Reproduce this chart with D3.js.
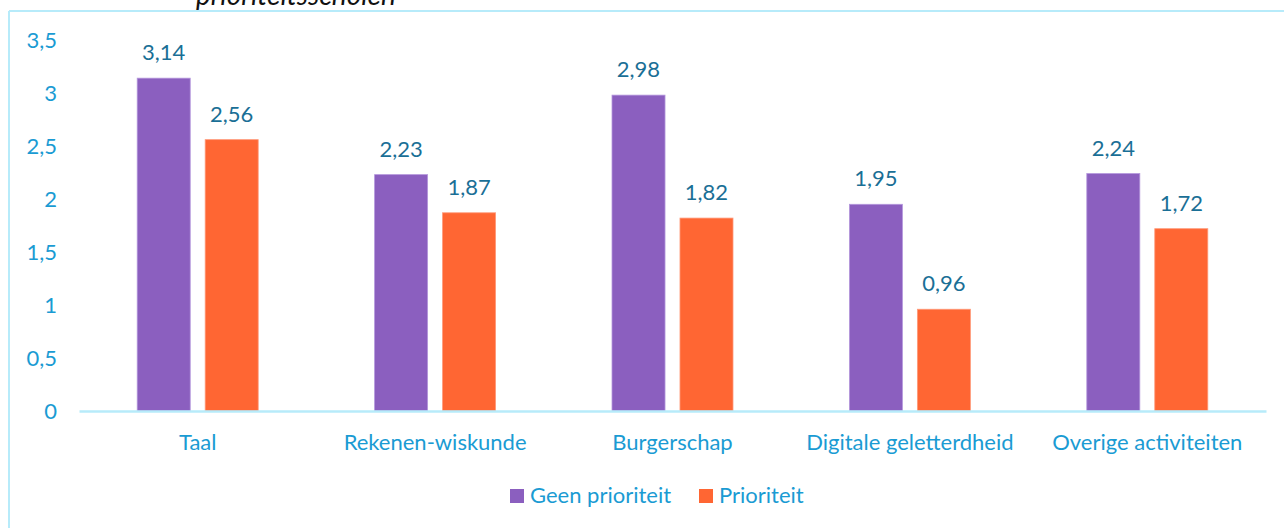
<!DOCTYPE html>
<html><head><meta charset="utf-8">
<script src="https://cdn.jsdelivr.net/npm/d3@7"></script>
<style>html,body{margin:0;padding:0;background:#fff;}svg{display:block;}</style>
</head><body>
<script>
const categories = ["Taal", "Rekenen-wiskunde", "Burgerschap", "Digitale geletterdheid", "Overige activiteiten"];
const seriesNames = ["Geen prioriteit", "Prioriteit"];
const geenPrioriteit = [3.14, 2.23, 2.98, 1.95, 2.24];
const prioriteit = [2.56, 1.87, 1.82, 0.96, 1.72];
const yTicks = [0, 0.5, 1, 1.5, 2, 2.5, 3, 3.5];
const colors = ["#8B5FBF", "#FF6633"];
const fmt = v => String(v).replace(".", ",");

const W = 1284, H = 528;
const svg = d3.select("body").append("svg").attr("width", W).attr("height", H);
const font = "Lato, 'Open Sans', sans-serif";
const FS = 22;

// frame
svg.append("line").attr("x1", 9).attr("x2", W).attr("y1", 11).attr("y2", 11).attr("stroke", "#b7ebfa").attr("stroke-width", 2);
svg.append("line").attr("x1", 9).attr("x2", 9).attr("y1", 11).attr("y2", H).attr("stroke", "#b7ebfa").attr("stroke-width", 2);

// clipped title (cut off at the top in the reference)
svg.append("text").attr("x", 196).attr("y", 5).attr("font-family", font).attr("font-style", "italic")
  .attr("font-size", 28).attr("fill", "#111").text("prioriteitsscholen");

const x0 = d3.scaleBand().domain(categories).range([79, 1266]).paddingInner(0).paddingOuter(0);
const x1 = d3.scaleBand().domain(seriesNames).range([0, 121]).paddingInner(0.22);
const y = d3.scaleLinear().domain([0, 3.5]).range([411, 40]);

const data = categories.map((c, i) => ({cat: c, vals: [geenPrioriteit[i], prioriteit[i]]}));

// y axis labels
const yAxis = d3.axisLeft(y).tickValues(yTicks).tickFormat(fmt).tickSize(0).tickPadding(0);
const ya = svg.append("g").attr("transform", "translate(57,0)").call(yAxis);
ya.select(".domain").remove();
ya.selectAll("text").attr("font-family", font).attr("font-size", FS).attr("fill", "#1a9bd3");

const groups = svg.selectAll("g.grp").data(data).enter().append("g").attr("class", "grp")
  .attr("transform", d => `translate(${x0(d.cat) + x0.bandwidth()/2 - 60.5},0)`);

groups.selectAll("rect").data(d => d.vals.map((v, j) => ({v, s: seriesNames[j], j}))).enter().append("rect")
  .attr("x", d => x1(d.s)).attr("width", x1.bandwidth())
  .attr("y", d => y(d.v)).attr("height", d => y(0) - y(d.v))
  .attr("fill", d => colors[d.j]).attr("stroke", d => d.j ? "#ff9a7a" : "#b497dc").attr("stroke-width", 0.8);

groups.selectAll("text.val").data(d => d.vals.map((v, j) => ({v, s: seriesNames[j], j}))).enter().append("text")
  .attr("class", "val").attr("x", d => x1(d.s) + x1.bandwidth()/2).attr("y", d => y(d.v) - 18)
  .attr("text-anchor", "middle").attr("font-family", font).attr("font-size", FS).attr("fill", "#1a6f96")
  .text(d => fmt(d.v));

// x axis
const xAxis = d3.axisBottom(x0).tickSize(0).tickPadding(0);
const xa = svg.append("g").attr("transform", "translate(0,411)").call(xAxis);
xa.select(".domain").attr("stroke", "#b7ebfa").attr("stroke-width", 2.5);
xa.selectAll("text").attr("dy", null).attr("y", 39).attr("font-family", font).attr("font-size", FS).attr("fill", "#1a9bd3");

// legend
const leg = svg.append("g");
const legItems = [{x: 510, name: seriesNames[0], c: colors[0]}, {x: 699, name: seriesNames[1], c: colors[1]}];
legItems.forEach(it => {
  leg.append("rect").attr("x", it.x).attr("y", 489).attr("width", 14).attr("height", 14).attr("fill", it.c);
  leg.append("text").attr("x", it.x + 20).attr("y", 503).attr("font-family", font).attr("font-size", FS)
    .attr("fill", "#1a9bd3").text(it.name);
});
</script>
</body></html>
